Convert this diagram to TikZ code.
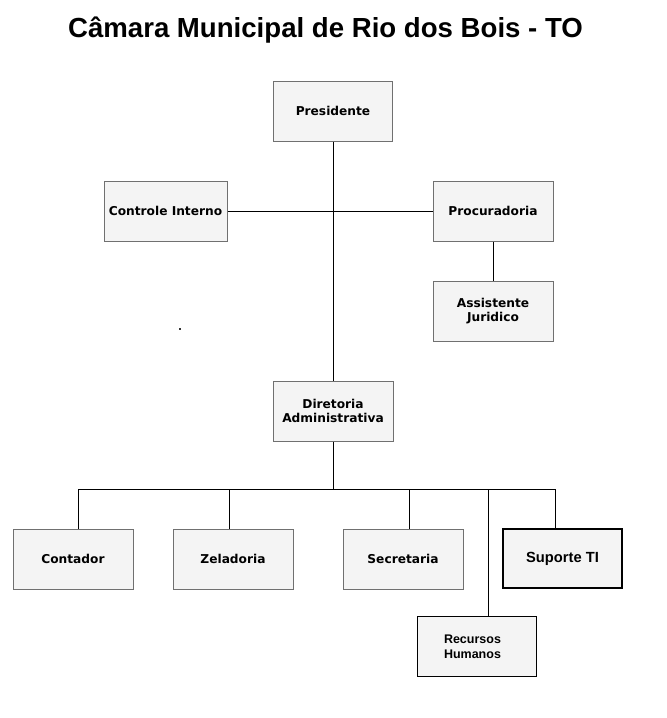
\documentclass[tikz,border=0pt]{standalone}
\usepackage{fontspec}
\setmainfont{DejaVu Sans}
\newfontfamily\arialf{Liberation Sans}
\definecolor{boxfill}{HTML}{F4F4F4}
\definecolor{boxline}{HTML}{707070}
\begin{document}
\begin{tikzpicture}[x=1pt,y=-1pt,
  orgbox/.style={rectangle, draw=boxline, line width=1pt, fill=boxfill,
    minimum width=120pt, minimum height=60pt, inner sep=2pt, align=center,
    font=\fontsize{12.2}{14.3}\selectfont\bfseries},
  darkbox/.style={orgbox, draw=black, line width=1.3pt},
  link/.style={draw=black, line width=1pt}]
\useasboundingbox (0,0) rectangle (667,718);
\fill[white] (0,0) rectangle (667,718);
\node[font=\arialf\fontsize{27.6}{30}\selectfont\bfseries] (title) at (325.5,30) {Câmara Municipal de Rio dos Bois - TO};

\node[orgbox, minimum width=119pt] (pres) at (333,111) {Presidente};
\node[orgbox, minimum width=123pt] (ctrl) at (165.5,211) {Controle Interno};
\node[orgbox] (proc) at (493,211) {Procuradoria};
\node[orgbox] (assist) at (493,311) {Assistente\\Juridico};
\node[orgbox] (dir) at (333,411) {Diretoria\\Administrativa};
\node[orgbox] (cont) at (73,559) {Contador};
\node[orgbox] (zel) at (233,559) {Zeladoria};
\node[orgbox] (sec) at (403,559) {Secretaria};
\node[darkbox, minimum width=119pt, minimum height=59pt, font=\arialf\fontsize{14.7}{16}\selectfont\bfseries] (sup) at (562.5,558.5) {Suporte TI};
\node[darkbox, minimum width=119pt, text width=66pt, align=left, font=\arialf\fontsize{12.5}{15}\selectfont\bfseries] (rh) at (477,646.5) {Recursos\\Humanos};

\draw[link] (pres.south) -- (dir.north);
\draw[link] (ctrl.east) -- (proc.west);
\draw[link] (proc.south) -- (assist.north);
\draw[link] (dir.south) -- ++(0,48) coordinate (bus);
\draw[link] (bus) -| ([xshift=5pt]cont.north);
\draw[link] (bus) -| ([xshift=-4pt]zel.north);
\draw[link] (bus) -| ([xshift=6pt]sec.north);
\draw[link] (bus) -| ([xshift=11.5pt]rh.north);
\draw[link] (bus) -| ([xshift=-7pt]sup.north);

\fill[black!80] (179.3,328.3) rectangle (180.7,329.7);
\end{tikzpicture}
\end{document}
